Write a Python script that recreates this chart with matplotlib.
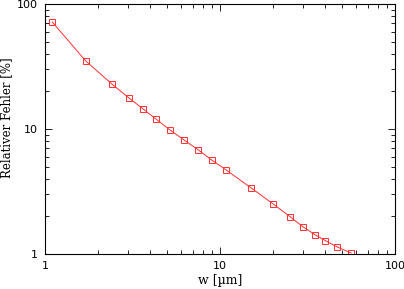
import matplotlib
matplotlib.use("Agg")
import matplotlib.pyplot as plt
from matplotlib.ticker import LogLocator, NullFormatter

# Messwerte: Breite w [um] und relativer Fehler [%]
w_um = [1.1, 1.71, 2.41, 3.02, 3.63, 4.31, 5.18, 6.23, 7.49, 8.97,
        10.8, 15.0, 20.0, 25.1, 29.8, 34.8, 40.0, 46.6, 56.0]
rel_fehler = [71.8, 35.0, 22.9, 17.7, 14.5, 12.0, 9.82, 8.17, 6.83, 5.65,
              4.72, 3.39, 2.53, 1.99, 1.65, 1.43, 1.28, 1.14, 1.02]

fig = plt.figure(figsize=(4.04, 2.89), dpi=100)
ax = fig.add_axes([45 / 404, 35 / 289, 350 / 404, 250 / 289])

ax.plot(w_um, rel_fehler, color="#ff3030", linewidth=0.7,
        marker="s", markersize=5, markerfacecolor="none",
        markeredgecolor="#ff3030", markeredgewidth=0.7)

ax.set_xscale("log")
ax.set_yscale("log")
ax.set_xlim(1, 100)
ax.set_ylim(1, 100)

ax.set_xticks([1, 10, 100])
ax.set_xticklabels(["1", "10", "100"])
ax.set_yticks([1, 10, 100])
ax.set_yticklabels(["1", "10", "100"])
for a in (ax.xaxis, ax.yaxis):
    a.set_minor_locator(LogLocator(base=10, subs=range(2, 10)))
    a.set_minor_formatter(NullFormatter())

ax.tick_params(which="both", direction="in", top=True, right=True,
               labelsize=8, width=0.6, pad=5)
ax.tick_params(which="major", length=5)
ax.tick_params(which="minor", length=3)
for s in ax.spines.values():
    s.set_linewidth(0.8)

ax.set_xlabel("w [µm]", family="DejaVu Serif", fontsize=9, labelpad=2)
ax.set_ylabel("Relativer Fehler [%]", family="DejaVu Serif", fontsize=8.5)
ax.yaxis.set_label_coords(-0.09, 0.545)

fig.savefig("out.png", dpi=100)
